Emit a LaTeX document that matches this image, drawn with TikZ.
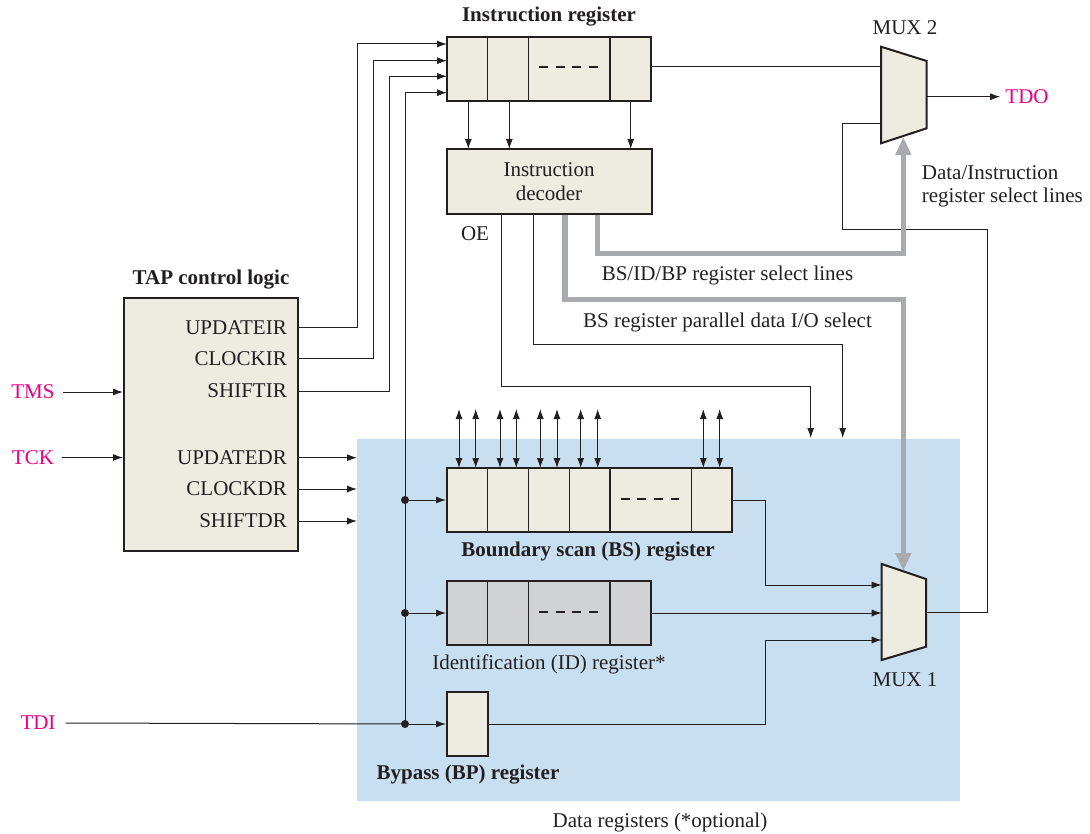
\documentclass[tikz,border=0pt]{standalone}
\usepackage{fontspec}
\setmainfont{Liberation Serif}
\usetikzlibrary{arrows.meta}
\definecolor{beige}{RGB}{238,235,225}
\definecolor{idgrey}{RGB}{209,210,212}
\definecolor{bluebg}{RGB}{200,223,242}
\definecolor{selgrey}{RGB}{168,170,174}
\definecolor{pin}{RGB}{232,0,132}
\definecolor{ink}{RGB}{35,31,32}
\begin{document}
\begin{tikzpicture}[x=1pt,y=-1pt,
  font=\fontsize{21}{23.5}\selectfont, text=ink,
  wire/.style={line width=1pt, draw=ink},
  arr/.style={wire, -{Latex[length=10pt,width=7pt]}},
  darr/.style={wire, {Latex[length=10pt,width=7pt]}-{Latex[length=10pt,width=7pt]}},
  box/.style={draw=ink, line width=2pt, fill=beige, inner sep=0pt},
  divider/.style={line width=1.3pt, draw=ink},
  dashline/.style={line width=1.3pt, draw=ink, dash pattern=on 9pt off 7.7pt},
  selbus/.style={line width=5.5pt, draw=selgrey, line join=miter, -{Triangle[length=18pt,width=15pt]}},
  jdot/.style={circle, fill=ink, inner sep=0pt, minimum size=8pt},
  lbl/.style={inner sep=0pt},
  blbl/.style={inner sep=0pt, font=\fontsize{21}{23.5}\selectfont\bfseries},
  pinlbl/.style={inner sep=0pt, text=pin},
  mux/.style={draw=ink, line width=2pt, fill=beige, line join=miter}]

\useasboundingbox (0,0) rectangle (1090,834);

% data register background
\fill[bluebg] (357,439) rectangle (960,801);
\node[lbl] (dregs) at (660,822) {Data registers (*optional)};

% ---------------- Instruction register ----------------
\node[blbl] (irt) at (549,17) {Instruction register};
\node[box, minimum width=204pt, minimum height=64pt] (ir) at (549,69) {};
\draw[divider] (487.7,37) -- (487.7,101);
\draw[divider] (528.7,37) -- (528.7,101);
\draw[divider] (610,37) -- (610,101);
\draw[dashline] (539,67) -- (598,67);

% ---------------- Instruction decoder ----------------
\node[box, minimum width=205pt, minimum height=65pt, align=center] (dec) at (549,181.5) {Instruction\\decoder};
\node[lbl] (oe) at (475,234) {OE};

\draw[arr] (468.3,101) -- (468.3,149);
\draw[arr] (509.3,101) -- (509.3,149);
\draw[arr] (630.7,101) -- (630.7,149);

% ---------------- TAP control logic ----------------
\node[blbl] (tapt) at (211,280) {TAP control logic};
\node[box, minimum width=174pt, minimum height=253pt] (tap) at (211,424.3) {};
\node[lbl, anchor=east] (luir) at (287,328) {UPDATEIR};
\node[lbl, anchor=east] (lcir) at (287,359) {CLOCKIR};
\node[lbl, anchor=east] (lsir) at (287,391) {SHIFTIR};
\node[lbl, anchor=east] (ludr) at (287,457.7) {UPDATEDR};
\node[lbl, anchor=east] (lcdr) at (287,489) {CLOCKDR};
\node[lbl, anchor=east] (lsdr) at (287,521) {SHIFTDR};

\node[pinlbl] (tms) at (33,392) {TMS};
\node[pinlbl] (tck) at (33,457.5) {TCK};
\node[pinlbl] (tdi) at (38,723) {TDI};

\coordinate (tUIR) at (298,328);
\coordinate (tCIR) at (298,359);
\coordinate (tSIR) at (298,391);
\coordinate (tUDR) at (298,457.7);
\coordinate (tCDR) at (298,489);
\coordinate (tSDR) at (298,521);
\coordinate (irA) at (447,44);
\coordinate (irB) at (447,60.7);
\coordinate (irC) at (447,76.3);
\coordinate (irD) at (447,92.7);

\draw[arr] ([xshift=8pt]tms.east) -- (tap.west |- tms);
\draw[arr] ([xshift=8pt]tck.east) -- (tap.west |- tck);

\draw[arr] (tUIR) -| (357.5,44) -- (irA);
\draw[arr] (tCIR) -| (373,60.7) -- (irB);
\draw[arr] (tSIR) -| (389,76.3) -- (irC);

\draw[arr] (tUDR) -- (357,457.7);
\draw[arr] (tCDR) -- (357,489);
\draw[arr] (tSDR) -- (357,521);

% ---------------- Data registers ----------------
\node[box, minimum width=285pt, minimum height=64pt] (bs) at (589.5,500) {};
\draw[divider] (487.7,468) -- (487.7,532);
\draw[divider] (528.7,468) -- (528.7,532);
\draw[divider] (569.3,468) -- (569.3,532);
\draw[divider] (610,468) -- (610,532);
\draw[divider] (691.7,468) -- (691.7,532);
\draw[dashline] (620.7,499) -- (679,499);
\node[blbl] (bst) at (588,552) {Boundary scan (BS) register};
\foreach \xx in {459,475.7,500,516.3,540.3,557,580.7,597.7,703.3,719.7}
  \draw[darr] (\xx,409) -- (\xx,468);

\node[box, fill=idgrey, minimum width=204pt, minimum height=64pt] (id) at (549,613) {};
\draw[divider] (487.7,581) -- (487.7,645);
\draw[divider] (528.7,581) -- (528.7,645);
\draw[divider] (610,581) -- (610,645);
\draw[dashline] (539,612) -- (598,612);
\node[lbl] (idt) at (549,664) {Identification (ID) register*};

\node[box, minimum width=41pt, minimum height=64pt] (bp) at (467.5,724) {};
\node[blbl] (bpt) at (468,775) {Bypass (BP) register};

% TDI distribution
\node[jdot] (jtdi) at (405,724) {};
\node[jdot] (jbs) at (405,500) {};
\node[jdot] (jid) at (405,613) {};
\draw[wire] ([xshift=10pt]tdi.east) -- (jtdi.center);
\draw[arr] (jtdi.center) -- (bp.west);
\draw[arr] (jbs.center) -- (bs.west);
\draw[arr] (jid.center) -- (id.west);
\draw[arr] (jtdi.center) -- (405,92.7) -- (irD);

% ---------------- MUX 1 ----------------
\coordinate (m1a) at (881.7,564);
\coordinate (m1b) at (926,579);
\coordinate (m1c) at (926,646.7);
\coordinate (m1d) at (881.7,660);
\draw[mux] (m1a) -- (m1b) -- (m1c) -- (m1d) -- cycle;
\node[lbl] (m1t) at (905,680) {MUX 1};
\coordinate (m1i1) at (881.7,585);
\coordinate (m1i2) at (881.7,613);
\coordinate (m1i3) at (881.7,640);
\coordinate (m1o) at (926,612);

\draw[arr] (bs.east) -- (765,500) -- (765,585) -- (m1i1);
\draw[arr] (id.east) -- (m1i2);
\draw[arr] (bp.east) -- (765,724) -- (765,640) -- (m1i3);

% ---------------- MUX 2 ----------------
\coordinate (m2a) at (881,46.7);
\coordinate (m2b) at (926.7,61);
\coordinate (m2c) at (926.7,128.3);
\coordinate (m2d) at (881,143.3);
\draw[mux] (m2a) -- (m2b) -- (m2c) -- (m2d) -- cycle;
\node[lbl] (m2t) at (905,28) {MUX 2};
\coordinate (m2i1) at (881,67);
\coordinate (m2i2) at (881,123.3);
\coordinate (m2o) at (926.7,96.7);
\node[pinlbl] (tdo) at (1027,96.7) {TDO};

\draw[wire] (651,67) -- (m2i1);
\draw[arr] (m2o) -- ([xshift=-5pt]tdo.west);
\draw[wire] (m1o) -- (987,612) -- (987,230) -- (842,230) -- (842,123.3) -- (m2i2);

% ---------------- decoder control lines ----------------
\draw[arr] (501,214) -- (501,386.7) -- (810.7,386.7) -- (810.7,438);
\draw[arr] (533.3,214) -- (533.3,344.3) -- (842.7,344.3) -- (842.7,438);
\node[lbl] (bspar) at (727.5,322.7) {BS register parallel data I/O select};

\draw[selbus] (565,215) -- (565,299.3) -- (903.3,299.3) -- (903.3,571);
\draw[selbus] (597.3,215) -- (597.3,253.3) -- (903.3,253.3) -- (903.3,137);
\node[lbl] (bssel) at (727.5,275) {BS/ID/BP register select lines};
\node[lbl, anchor=west, align=left] (disel) at (921.7,186.5) {Data/Instruction\\register select lines};

\end{tikzpicture}
\end{document}
